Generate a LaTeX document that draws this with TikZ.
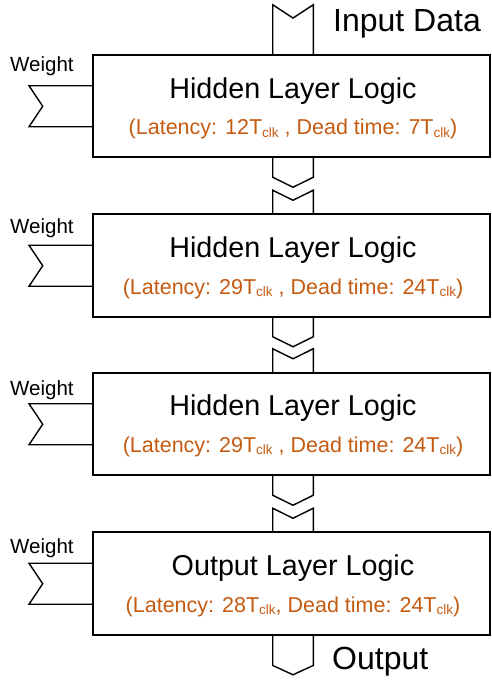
\documentclass[tikz,border=0pt]{standalone}
\usepackage{fontspec}
\setmainfont{Liberation Sans}
\usetikzlibrary{calc}
\definecolor{latcol}{HTML}{C55A11}
\tikzset{
  box/.style={draw, line width=1.8pt, minimum width=397pt, minimum height=102.5pt, inner sep=0pt, outer sep=0pt},
  conn/.style={line width=1.4pt, line join=miter},
  title/.style={anchor=base, inner sep=0pt, font=\fontsize{28.7}{34}\selectfont},
  sub/.style={anchor=base, inner sep=0pt, text=latcol, font=\fontsize{21.5}{26}\selectfont},
  wlabel/.style={anchor=base west, inner sep=0pt, font=\fontsize{20.5}{24}\selectfont},
  iolabel/.style={anchor=base west, inner sep=0pt, font=\fontsize{32}{38}\selectfont}
}
\newcommand{\clk}{\raisebox{-2pt}{\fontsize{13.5}{14}\selectfont clk}}
\begin{document}
\begin{tikzpicture}[x=1pt,y=-1pt]
\useasboundingbox (0,0) rectangle (491,682);
% boxes
\node[box] (b1) at (291.5,106) {};
\node[box] (b2) at (291.5,265.5) {};
\node[box] (b3) at (291.5,424) {};
\node[box] (b4) at (291.5,583.5) {};
% texts
\node[title] (t1) at (293,98.3) {Hidden Layer Logic};
\node[sub] (s1) at (293,135) {(Latency: 12T\clk\ , Dead time: 7T\clk)};
\node[title] (t2) at (293,257) {Hidden Layer Logic};
\node[sub] (s2) at (293,294.3) {(Latency: 29T\clk\ , Dead time: 24T\clk)};
\node[title] (t3) at (293,415.5) {Hidden Layer Logic};
\node[sub] (s3) at (293,452.5) {(Latency: 29T\clk\ , Dead time: 24T\clk)};
\node[title] (t4) at (293,575) {Output Layer Logic};
\node[sub] (s4) at (293,612) {(Latency: 28T\clk, Dead time: 24T\clk)};
% weight labels
\node[wlabel] (w1) at (10,72) {Weight};
\node[wlabel] (w2) at (10,233) {Weight};
\node[wlabel] (w3) at (10,395) {Weight};
\node[wlabel] (w4) at (10,553) {Weight};
% weight arrows
\foreach \b in {b1,b2,b3,b4}{
  \draw[conn] ($(\b.north west)+(0,31)$) -- ++(-64,0) -- ++(13.7,20.5) -- ++(-13.7,20.5) -- ($(\b.north west)+(0,72)$);
}
% input
\node[iolabel] (in) at (333,31.7) {Input Data};
\draw[conn] ($(b1.north)+(-18.8,0)$) -- ++(0,-50) -- ++(20.3,13.3) -- ++(20.3,-13.3) -- ($(b1.north)+(21.8,0)$);
% inter-box connectors
\foreach \u/\l in {b1/b2,b2/b3,b3/b4}{
  \draw[conn] ($(\u.south)+(-18.8,0)$) -- ++(0,20) -- ++(20.3,10) -- ++(20.3,-10) -- ($(\u.south)+(21.8,0)$);
  \draw[conn] ($(\l.north)+(-18.8,0)$) -- ++(0,-24) -- ++(20.3,10) -- ++(20.3,-10) -- ($(\l.north)+(21.8,0)$);
}
% output
\node[iolabel] (out) at (332,669) {Output};
\draw[conn] ($(b4.south)+(-18.8,0)$) -- ++(0,30.7) -- ++(20.3,9.3) -- ++(20.3,-9.3) -- ($(b4.south)+(21.8,0)$);
\end{tikzpicture}
\end{document}
